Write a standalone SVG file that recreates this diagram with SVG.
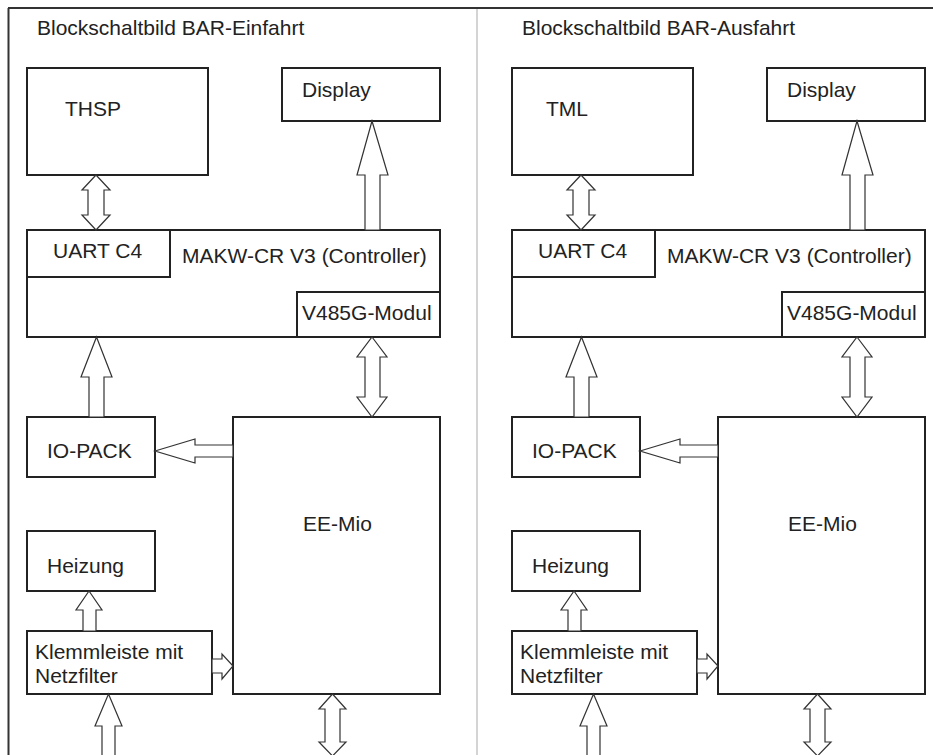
<svg xmlns="http://www.w3.org/2000/svg" width="933" height="755" viewBox="0 0 933 755">
<style>
.box{fill:#fff;stroke:#222;stroke-width:2}
.sub{fill:none;stroke:#222;stroke-width:2}
.arr{fill:#fff;stroke:#333;stroke-width:1.2;stroke-linejoin:miter}
text{font-family:"Liberation Sans",Arial,sans-serif;font-size:21px;fill:#222}
</style>
<rect x="0" y="0" width="933" height="755" fill="#fff"/>
<g id="frame">
<line x1="8" y1="8" x2="933" y2="8" stroke="#333" stroke-width="2"/>
<line x1="8.5" y1="8" x2="8.5" y2="755" stroke="#333" stroke-width="2"/>
<line x1="477" y1="9" x2="477" y2="755" stroke="#d4d4d4" stroke-width="2"/>
</g>
<g id="left-panel">
<text id="title-left" x="37" y="35">Blockschaltbild BAR-Einfahrt</text>
<g id="thsp"><rect class="box" x="27" y="68" width="181" height="107"/><text x="65" y="116">THSP</text></g>
<g id="display-l"><rect class="box" x="282" y="68" width="158" height="53"/><text x="302" y="97">Display</text></g>
<g id="controller-l">
<rect class="box" x="27" y="230" width="413" height="107"/>
<rect class="sub" x="27" y="230" width="143" height="47"/>
<text x="53" y="258">UART C4</text>
<text x="182" y="263">MAKW-CR V3 (Controller)</text>
<rect class="sub" x="297" y="292" width="143" height="45"/>
<text x="302" y="320">V485G-Modul</text>
</g>
<g id="iopack-l"><rect class="box" x="27" y="417" width="128" height="60"/><text x="47" y="458">IO-PACK</text></g>
<g id="eemio-l"><rect class="box" x="233" y="417" width="207" height="277"/><text x="303" y="531">EE-Mio</text></g>
<g id="heizung-l"><rect class="box" x="27" y="531" width="128" height="60"/><text x="47" y="573">Heizung</text></g>
<g id="klemm-l"><rect class="box" x="27" y="631" width="185" height="63"/><text x="35" y="659">Klemmleiste mit</text><text x="35" y="683">Netzfilter</text></g>
<g id="connectors-l">
<polygon class="arr" points="372,121 388,175 380,175 380,230 365,230 365,175 357,175"/>
<polygon class="arr" points="96,175 110,190 104,190 104,215 110,215 96,230 82,215 88,215 88,190 82,190"/>
<polygon class="arr" points="96.5,337 112,377 104,377 104,417 89,417 89,377 81,377"/>
<polygon class="arr" points="372,337 387,357 380,357 380,397 387,397 372,417 357,397 365,397 365,357 357,357"/>
<polygon class="arr" points="155,451 195,439 195,445 233,445 233,457 195,457 195,463"/>
<polygon class="arr" points="89,591 102,610 96,610 96,631 83,631 83,610 76,610"/>
<polygon class="arr" points="233,666 222,654 222,659 212,659 212,673 222,673 222,679"/>
<polygon class="arr" points="108.5,694 122,726 115,726 115,757 102,757 102,726 95,726"/>
<polygon class="arr" points="332.5,694 346,709 340,709 340,742 346,742 332.5,756 319,742 325,742 325,709 319,709"/>
</g>
</g>
<g id="right-panel" transform="translate(485,0)">
<text id="title-right" x="37" y="35">Blockschaltbild BAR-Ausfahrt</text>
<g id="tml"><rect class="box" x="27" y="68" width="181" height="107"/><text x="61" y="116">TML</text></g>
<g id="display-r"><rect class="box" x="282" y="68" width="158" height="53"/><text x="302" y="97">Display</text></g>
<g id="controller-r">
<rect class="box" x="27" y="230" width="413" height="107"/>
<rect class="sub" x="27" y="230" width="143" height="47"/>
<text x="53" y="258">UART C4</text>
<text x="182" y="263">MAKW-CR V3 (Controller)</text>
<rect class="sub" x="297" y="292" width="143" height="45"/>
<text x="302" y="320">V485G-Modul</text>
</g>
<g id="iopack-r"><rect class="box" x="27" y="417" width="128" height="60"/><text x="47" y="458">IO-PACK</text></g>
<g id="eemio-r"><rect class="box" x="233" y="417" width="207" height="277"/><text x="303" y="531">EE-Mio</text></g>
<g id="heizung-r"><rect class="box" x="27" y="531" width="128" height="60"/><text x="47" y="573">Heizung</text></g>
<g id="klemm-r"><rect class="box" x="27" y="631" width="185" height="63"/><text x="35" y="659">Klemmleiste mit</text><text x="35" y="683">Netzfilter</text></g>
<g id="connectors-r">
<polygon class="arr" points="372,121 388,175 380,175 380,230 365,230 365,175 357,175"/>
<polygon class="arr" points="96,175 110,190 104,190 104,215 110,215 96,230 82,215 88,215 88,190 82,190"/>
<polygon class="arr" points="96.5,337 112,377 104,377 104,417 89,417 89,377 81,377"/>
<polygon class="arr" points="372,337 387,357 380,357 380,397 387,397 372,417 357,397 365,397 365,357 357,357"/>
<polygon class="arr" points="155,451 195,439 195,445 233,445 233,457 195,457 195,463"/>
<polygon class="arr" points="89,591 102,610 96,610 96,631 83,631 83,610 76,610"/>
<polygon class="arr" points="233,666 222,654 222,659 212,659 212,673 222,673 222,679"/>
<polygon class="arr" points="108.5,694 122,726 115,726 115,757 102,757 102,726 95,726"/>
<polygon class="arr" points="332.5,694 346,709 340,709 340,742 346,742 332.5,756 319,742 325,742 325,709 319,709"/>
</g>
</g>
</svg>
